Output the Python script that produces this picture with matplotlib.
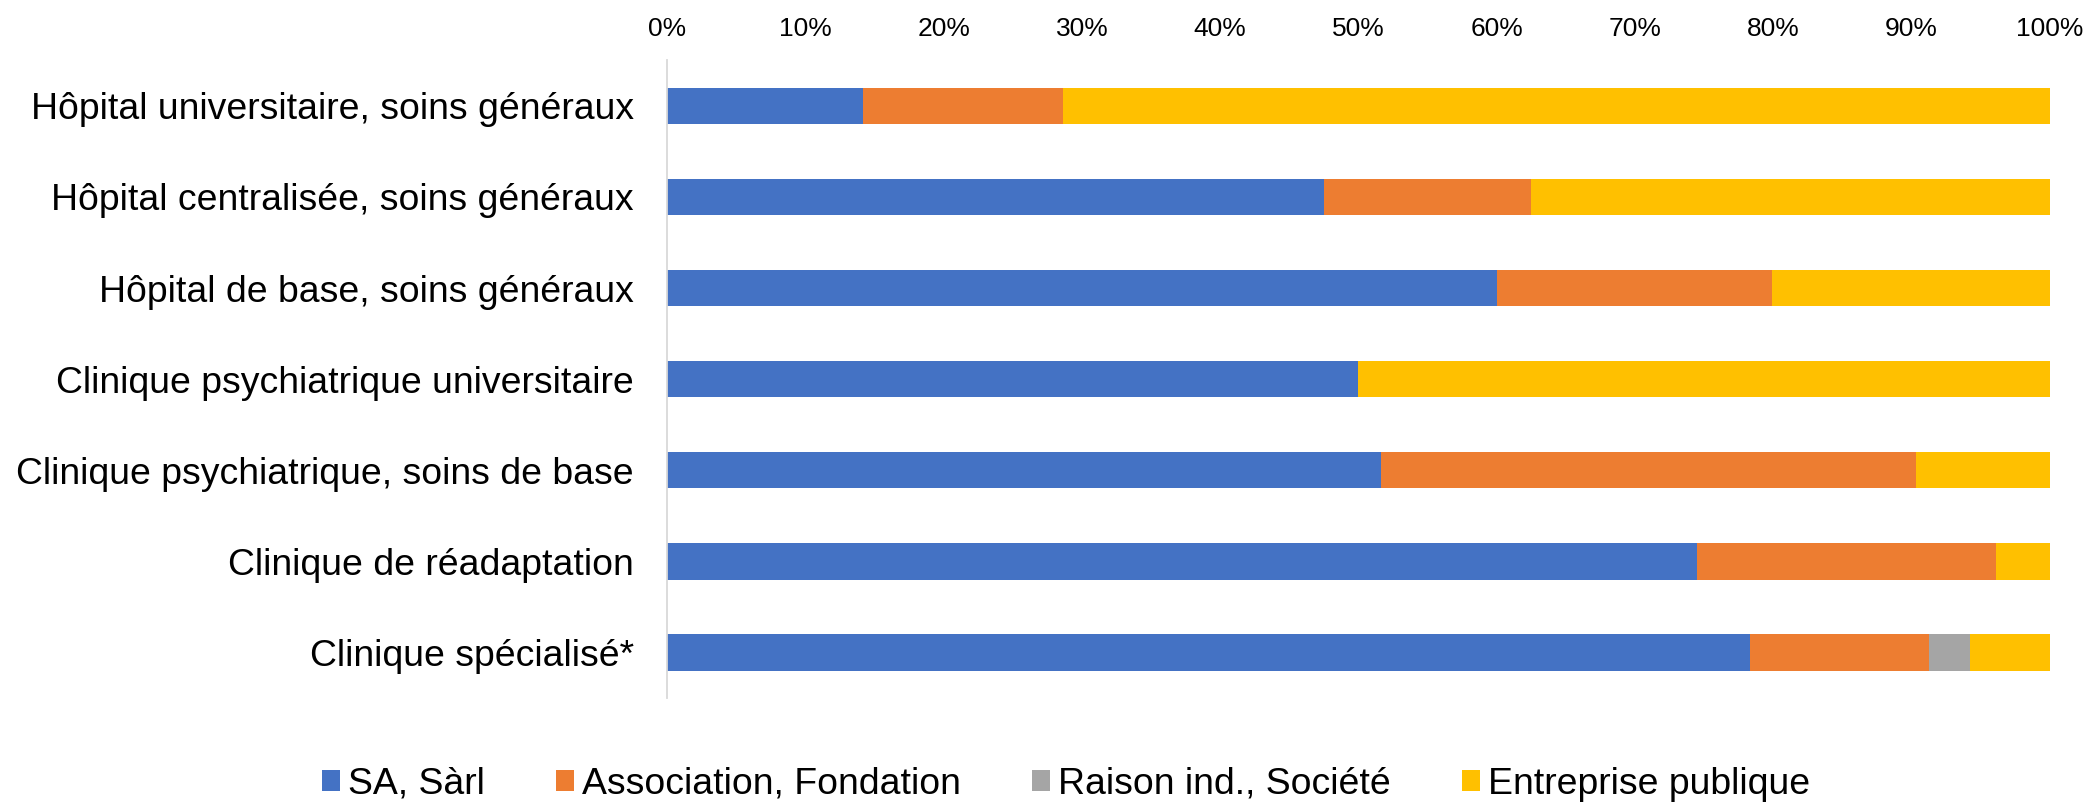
import matplotlib.pyplot as plt
import numpy as np
from matplotlib.ticker import PercentFormatter

plt.rcParams['font.family'] = ['Liberation Sans', 'DejaVu Sans']

categories = [
    "Hôpital universitaire, soins généraux",
    "Hôpital centralisée, soins généraux",
    "Hôpital de base, soins généraux",
    "Clinique psychiatrique universitaire",
    "Clinique psychiatrique, soins de base",
    "Clinique de réadaptation",
    "Clinique spécialisé*",
]
series_names = ["SA, Sàrl", "Association, Fondation", "Raison ind., Société", "Entreprise publique"]
sa_sarl = [14.2, 47.5, 60.0, 50.0, 51.6, 74.5, 78.3]
association = [14.4, 15.0, 19.9, 0.0, 38.7, 21.6, 13.0]
raison_ind = [0.0, 0.0, 0.0, 0.0, 0.0, 0.0, 2.9]
entreprise = [71.4, 37.5, 20.1, 50.0, 9.7, 3.9, 5.8]
colors = ["#4472C4", "#ED7D31", "#A5A5A5", "#FFC000"]

fig = plt.figure(figsize=(20.98, 8.05), dpi=100)
ax = fig.add_axes([0.318, 0.133, 0.659, 0.792])

y = np.arange(len(categories))
left = np.zeros(len(categories))
for name, vals, col in zip(series_names, [sa_sarl, association, raison_ind, entreprise], colors):
    ax.barh(y, vals, left=left, height=0.4, color=col, label=name, linewidth=0)
    left += np.array(vals)

ax.set_ylim(len(categories) - 0.5, -0.5)
ax.set_xlim(0, 100)
ax.set_yticks(y)
ax.set_yticklabels(categories, fontsize=26.9)
ax.set_xticks(np.arange(0, 101, 10))
ax.xaxis.set_major_formatter(PercentFormatter(decimals=0))
ax.xaxis.tick_top()
ax.tick_params(axis='x', length=0, labelsize=19, pad=14)
ax.tick_params(axis='y', length=0, pad=24)

for s in ['top', 'right', 'bottom']:
    ax.spines[s].set_visible(False)
ax.spines['left'].set_color('#d9d9d9')
ax.spines['left'].set_linewidth(1.3)

fig.legend(loc='center', bbox_to_anchor=(0.508, 0.026), ncol=4, frameon=False,
           fontsize=26.9, handlelength=0.5, handleheight=0.5, handletextpad=0.2,
           columnspacing=1.9)

fig.savefig('out.png', dpi=100)
